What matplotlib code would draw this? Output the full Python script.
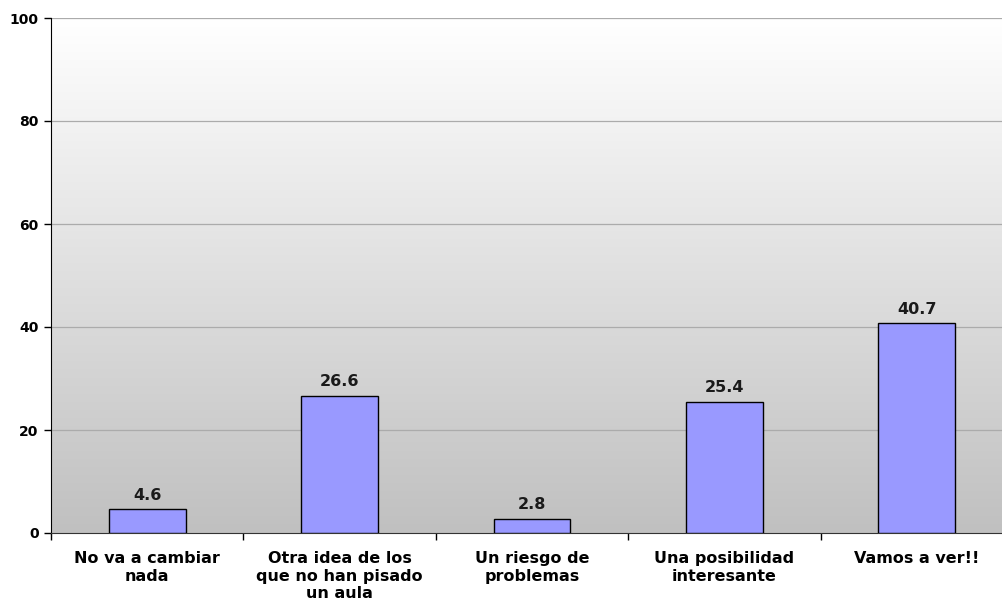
import matplotlib
matplotlib.use("Agg")
import matplotlib.pyplot as plt
import numpy as np

categories = ["No va a cambiar\nnada", "Otra idea de los\nque no han pisado\nun aula",
              "Un riesgo de\nproblemas", "Una posibilidad\ninteresante", "Vamos a ver!!"]
values = [4.6, 26.6, 2.8, 25.4, 40.7]
yticks = [0, 20, 40, 60, 80, 100]

plt.rcParams['font.family'] = ['DejaVu Sans']
fig = plt.figure(figsize=(10.03, 6.12), dpi=100)
ax = fig.add_axes([51/1003, 79/612, 962/1003, 515/612])

n = len(categories)
x = np.arange(n)
ax.set_xlim(-0.5, n - 0.5)
ax.set_ylim(0, 100)

grad = np.linspace(0, 1, 256).reshape(-1, 1)
cmap = matplotlib.colors.LinearSegmentedColormap.from_list("g", ["#C0C0C0", "#FFFFFF"])
ax.imshow(grad, extent=[-0.5, n - 0.5, 0, 100], origin="lower", aspect="auto",
          cmap=cmap, zorder=0)

for t in yticks[1:]:
    ax.axhline(t, color="#ABABAB", lw=0.9, zorder=1)

bars = ax.bar(x, values, width=0.4, color="#9999FF", edgecolor="black", lw=1, zorder=3)
for xi, v in zip(x, values):
    ax.text(xi, v + 1.3, f"{v}", ha="center", va="bottom", fontsize=11.5,
            fontweight="bold", color="#1a1a1a", zorder=4)

ax.set_yticks(yticks)
ax.set_yticklabels([str(t) for t in yticks], fontsize=10, fontweight="bold")
ax.set_xticks(np.arange(n + 1) - 0.5, minor=True)
ax.set_xticks(x)
ax.set_xticklabels(categories, fontsize=11.5, fontweight="bold", linespacing=1.22)
ax.tick_params(axis="x", which="major", length=0, pad=13)
ax.tick_params(axis="x", which="minor", length=5, width=1, direction="out")
ax.tick_params(axis="y", length=5, width=1, direction="out", pad=4)

for s in ["top", "right"]:
    ax.spines[s].set_visible(False)
ax.spines["left"].set_color("black")
ax.spines["bottom"].set_color("#333333")

fig.savefig("out.png", dpi=100)
